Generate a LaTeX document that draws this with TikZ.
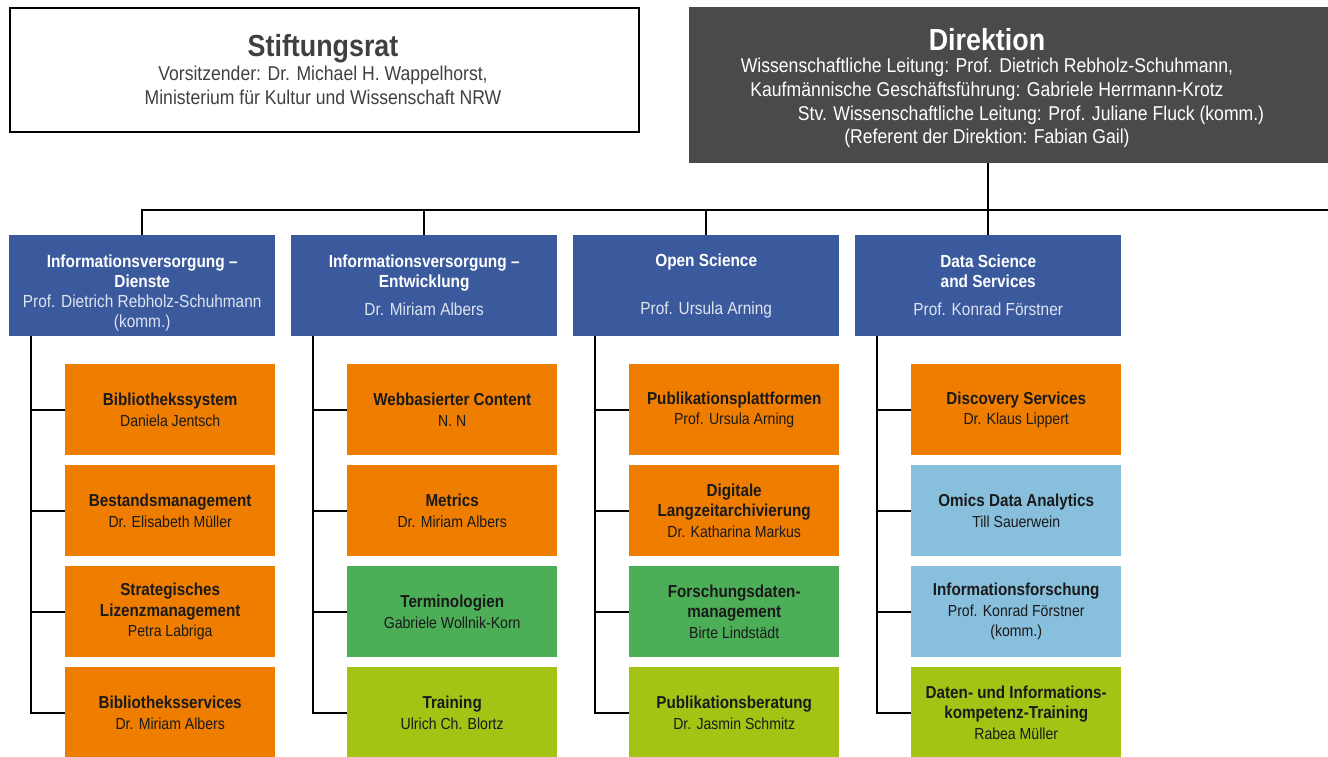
\documentclass[tikz,border=0pt]{standalone}
\usepackage{fontspec}
\setmainfont[FakeStretch=0.88]{Liberation Sans}
\usetikzlibrary{calc}
\definecolor{dgray}{RGB}{74,74,72}
\definecolor{tgray}{RGB}{64,64,64}
\definecolor{iblue}{RGB}{59,90,158}
\definecolor{iorange}{RGB}{238,125,0}
\definecolor{igreen}{RGB}{77,174,88}
\definecolor{ilime}{RGB}{163,196,20}
\definecolor{ilblue}{RGB}{135,191,220}
\definecolor{itext}{RGB}{26,26,26}
\definecolor{iname}{RGB}{222,228,240}
\newcommand{\hb}[1]{{\fontsize{17.5}{20}\selectfont\bfseries #1}}
\newcommand{\hn}[1]{{\fontsize{17.5}{20}\selectfont\color{iname}#1}}
\newcommand{\sbt}[1]{{\fontsize{17.3}{20.5}\selectfont\bfseries #1}}
\newcommand{\snm}[1]{{\fontsize{16}{20.5}\selectfont #1}}
\begin{document}
\begin{tikzpicture}[x=1pt,y=-1pt,
  conn/.style={line width=2pt,black},
  headbox/.style={fill=iblue,anchor=north west,minimum width=266pt,minimum height=101pt,inner sep=0pt,
    text=white,align=center,font=\fontsize{17.5}{20}\selectfont},
  headtext/.style={text=white,align=center,inner sep=0pt,font=\fontsize{17.5}{20}\selectfont},
  subbox/.style={fill=#1,anchor=north west,minimum width=210pt,minimum height=91pt,inner sep=0pt,
    text=itext,align=center,font=\fontsize{17}{20.5}\selectfont},
  toptitle/.style={anchor=base,font=\fontsize{30.5}{34}\selectfont\bfseries},
  topline/.style={anchor=base,font=\fontsize{20}{22}\selectfont}]
\useasboundingbox (0,0) rectangle (1328,756);
\clip (0,0) rectangle (1328,756);
% top boxes
\node[draw=black,line width=2pt,fill=white,anchor=north west,minimum width=629pt,minimum height=124pt,inner sep=0pt] (stift) at (9,7) {};
\node[toptitle,text=tgray] (stiftT) at (323,56) {Stiftungsrat};
\node[topline,text=tgray] (stiftA) at (323,80) {Vorsitzender: Dr. Michael H. Wappelhorst,};
\node[topline,text=tgray] (stiftB) at (323,104) {Ministerium für Kultur und Wissenschaft NRW};
\node[fill=dgray,anchor=north west,minimum width=660pt,minimum height=156pt,inner sep=0pt] (dir) at (689,7) {};
\node[toptitle,text=white] (dirT) at (987,50) {Direktion};
\node[topline,text=white] (dirA) at (987,72) {Wissenschaftliche Leitung: Prof. Dietrich Rebholz-Schuhmann,};
\node[topline,text=white] (dirB) at (987,96) {Kaufmännische Geschäftsführung: Gabriele Herrmann-Krotz};
\node[topline,text=white] (dirC) at (1031,120) {Stv. Wissenschaftliche Leitung: Prof. Juliane Fluck (komm.)};
\node[topline,text=white] (dirD) at (987,143) {(Referent der Direktion: Fabian Gail)};
% department boxes
\node[headbox] (c1) at (9,235) {};
\node[headtext] (c1t) at ($(c1.center)+(0,7)$) {\hb{Informationsversorgung –}\\\hb{Dienste}\\\hn{Prof. Dietrich Rebholz-Schuhmann}\\\hn{(komm.)}};
\node[headbox] (c2) at (291,235) {\hb{Informationsversorgung –}\\\hb{Entwicklung}\\[8pt]\hn{Dr. Miriam Albers}};
\node[headbox] (c3) at (573,235) {\hb{Open Science}\\[28pt]\hn{Prof. Ursula Arning}};
\node[headbox] (c4) at (855,235) {\hb{Data Science}\\\hb{and Services}\\[8pt]\hn{Prof. Konrad Förstner}};
% sub boxes column 1
\node[subbox=iorange] (s11) at (65,364) {\sbt{Bibliothekssystem}\\\snm{Daniela Jentsch}};
\node[subbox=iorange] (s12) at (65,465) {\sbt{Bestandsmanagement}\\\snm{Dr. Elisabeth Müller}};
\node[subbox=iorange] (s13) at (65,566) {\sbt{Strategisches}\\\sbt{Lizenzmanagement}\\\snm{Petra Labriga}};
\node[subbox=iorange] (s14) at (65,667) {\sbt{Bibliotheksservices}\\\snm{Dr. Miriam Albers}};
% column 2
\node[subbox=iorange] (s21) at (347,364) {\sbt{Webbasierter Content}\\\snm{N. N}};
\node[subbox=iorange] (s22) at (347,465) {\sbt{Metrics}\\\snm{Dr. Miriam Albers}};
\node[subbox=igreen] (s23) at (347,566) {\sbt{Terminologien}\\\snm{Gabriele Wollnik-Korn}};
\node[subbox=ilime] (s24) at (347,667) {\sbt{Training}\\\snm{Ulrich Ch. Blortz}};
% column 3
\node[subbox=iorange] (s31) at (629,364) {\sbt{Publikationsplattformen}\\\snm{Prof. Ursula Arning}};
\node[subbox=iorange] (s32) at (629,465) {\sbt{Digitale}\\\sbt{Langzeitarchivierung}\\\snm{Dr. Katharina Markus}};
\node[subbox=igreen] (s33) at (629,566) {\sbt{Forschungsdaten-}\\\sbt{management}\\\snm{Birte Lindstädt}};
\node[subbox=ilime] (s34) at (629,667) {\sbt{Publikationsberatung}\\\snm{Dr. Jasmin Schmitz}};
% column 4
\node[subbox=iorange] (s41) at (911,364) {\sbt{Discovery Services}\\\snm{Dr. Klaus Lippert}};
\node[subbox=ilblue] (s42) at (911,465) {\sbt{Omics Data Analytics}\\\snm{Till Sauerwein}};
\node[subbox=ilblue] (s43) at (911,566) {\sbt{Informationsforschung}\\\snm{Prof. Konrad Förstner}\\\snm{(komm.)}};
\node[subbox=ilime] (s44) at (911,667) {\sbt{Daten- und Informations-}\\\sbt{kompetenz-Training}\\\snm{Rabea Müller}};
% connectors top
\coordinate (busR) at (1330,210);
\draw[conn] (c4.north |- dir.south) -- (c4.north);
\draw[conn] (c1.north) |- (busR);
\draw[conn] (c2.north) -- (c2.north |- busR);
\draw[conn] (c3.north) -- (c3.north |- busR);
% connectors columns
\foreach \c in {1,2,3,4}{
  \draw[conn] ([xshift=22pt]c\c.south west) |- (s\c4.west);
  \foreach \r in {1,2,3}{
    \draw[conn] (s\c\r.west) -- ++(-34,0);
  }
}
\end{tikzpicture}
\end{document}
